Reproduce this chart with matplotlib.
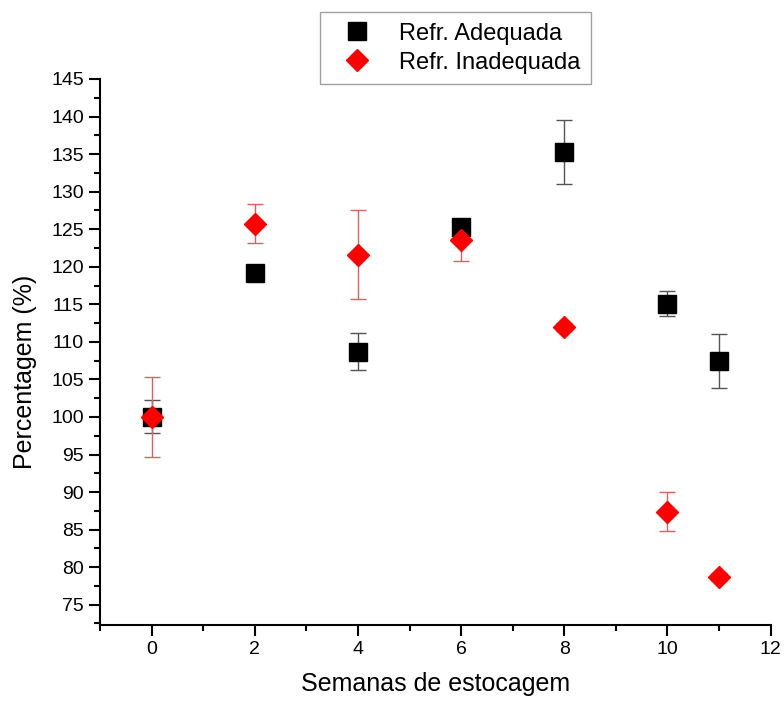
import matplotlib.pyplot as plt
from matplotlib.ticker import MultipleLocator

plt.rcParams['font.family'] = ['Liberation Sans', 'DejaVu Sans']

# Weeks of storage
semanas = [0, 2, 4, 6, 8, 10, 11]

# Adequate refrigeration (black squares)
adequada = [100.0, 119.2, 108.7, 125.3, 135.3, 115.1, 107.5]
adequada_err = [2.2, 0.8, 2.5, 1.0, 4.3, 1.7, 3.6]

# Inadequate refrigeration (red diamonds)
inadequada = [100.0, 125.7, 121.6, 123.6, 112.0, 87.4, 78.7]
inadequada_err = [5.3, 2.6, 5.9, 2.8, 0.5, 2.6, 0.5]

fig = plt.figure(figsize=(7.84, 7.02), dpi=100)
ax = fig.add_axes([0.1276, 0.1097, 0.8554, 0.7778])

ax.errorbar(semanas, adequada, yerr=adequada_err, fmt="none",
            ecolor="#555555", elinewidth=1, capsize=6, capthick=1, zorder=2)
ax.errorbar(semanas, inadequada, yerr=inadequada_err, fmt="none",
            ecolor="#e06060", elinewidth=1, capsize=6, capthick=1, zorder=2)
ax.plot(semanas, adequada, linestyle="none", marker="s", markersize=13.5,
        color="black", label="Refr. Adequada", zorder=3)
ax.plot(semanas, inadequada, linestyle="none", marker="D", markersize=11,
        color="#ff0000", label="Refr. Inadequada", zorder=4)

ax.set_xlim(-1, 12)
ax.set_ylim(72.3, 145)
ax.xaxis.set_major_locator(MultipleLocator(2))
ax.xaxis.set_minor_locator(MultipleLocator(1))
ax.yaxis.set_major_locator(MultipleLocator(5))
ax.yaxis.set_minor_locator(MultipleLocator(2.5))
ax.spines["top"].set_visible(False)
ax.spines["right"].set_visible(False)
ax.spines["left"].set_linewidth(1.5)
ax.spines["bottom"].set_linewidth(1.5)
ax.tick_params(which="major", direction="out", length=8, width=1.5, labelsize=14)
ax.tick_params(which="minor", direction="out", length=4, width=1.5)

ax.set_xlabel("Semanas de estocagem", fontsize=18, labelpad=10)
ax.set_ylabel("Percentagem (%)", fontsize=18)
ax.yaxis.set_label_coords(-0.094, 0.463)

fig.legend(loc="upper left", bbox_to_anchor=(320 / 784, 1 - 12 / 702),
           fontsize=17, frameon=True, fancybox=False, edgecolor="#888888",
           handletextpad=0.7, handlelength=2.2, borderpad=0.45,
           labelspacing=0.3, borderaxespad=0)

fig.savefig("out.png", dpi=100)
